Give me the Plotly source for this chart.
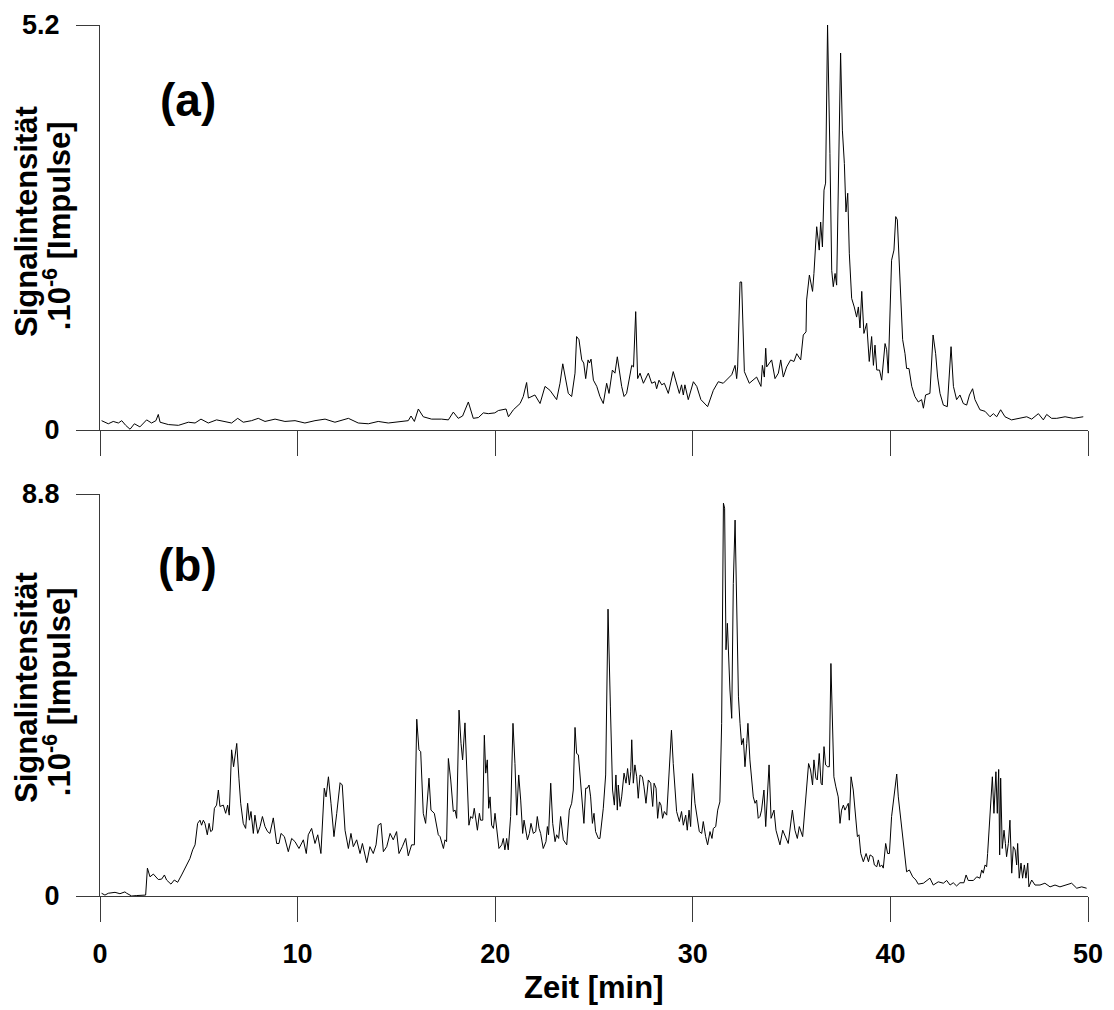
import plotly.graph_objects as go

# ---------------- data ----------------
time_a = [0.08, 0.42, 0.67, 0.93, 1.10, 1.30, 1.52, 1.74, 2.02, 2.36, 2.61, 2.83, 2.95, 3.04, 3.46, 3.97,
          4.47, 4.81, 5.11, 5.48, 5.90, 6.33, 6.66, 6.97, 7.25, 7.67, 8.01, 8.35, 8.86, 9.36, 9.87, 10.37,
          10.88, 11.39, 11.89, 12.57, 13.07, 13.58, 14.08, 14.59, 15.10, 15.60, 15.74, 15.91, 16.11, 16.36,
          16.78, 17.29, 17.63, 17.88, 18.13, 18.35, 18.64, 18.89, 19.15, 19.40, 19.65, 19.98, 20.16, 20.55,
          20.67, 20.92, 21.26, 21.42, 21.59, 21.68, 22.01, 22.27, 22.52, 22.77, 23.11, 23.28, 23.42, 23.70,
          23.87, 24.04, 24.12, 24.24, 24.38, 24.48, 24.58, 24.70, 24.77, 24.85, 24.97, 25.14, 25.30, 25.47,
          25.64, 25.76, 25.93, 26.06, 26.18, 26.40, 26.52, 26.65, 26.91, 27.00, 27.11, 27.21, 27.33, 27.50,
          27.75, 27.92, 28.09, 28.17, 28.29, 28.43, 28.56, 28.76, 29.01, 29.32, 29.43, 29.52, 29.60, 29.77,
          30.03, 30.20, 30.41, 30.75, 31.04, 31.29, 31.54, 31.97, 32.14, 32.22, 32.27, 32.39, 32.47, 32.61,
          32.86, 33.23, 33.45, 33.52, 33.62, 33.69, 33.74, 33.99, 34.16, 34.33, 34.45, 34.58, 34.75, 34.95,
          35.12, 35.26, 35.46, 35.59, 35.73, 35.76, 35.90, 36.02, 36.06, 36.13, 36.27, 36.40, 36.47, 36.56,
          36.64, 36.72, 36.82, 36.94, 37.03, 37.11, 37.20, 37.28, 37.37, 37.48, 37.57, 37.67, 37.75, 37.84,
          37.92, 38.04, 38.17, 38.29, 38.38, 38.46, 38.55, 38.66, 38.80, 38.93, 39.05, 39.14, 39.22, 39.31,
          39.45, 39.56, 39.73, 39.81, 39.89, 40.06, 40.18, 40.27, 40.35, 40.49, 40.62, 40.74, 40.82, 40.94,
          41.08, 41.24, 41.41, 41.58, 41.67, 41.78, 42.00, 42.16, 42.29, 42.39, 42.51, 42.68, 42.88, 43.07,
          43.19, 43.35, 43.52, 43.69, 43.86, 44.00, 44.16, 44.28, 44.53, 44.79, 45.04, 45.21, 45.38, 45.58,
          45.80, 46.13, 46.55, 46.90, 47.15, 47.49, 47.74, 47.91, 48.16, 48.42, 48.84, 49.26, 49.76]
signal_a = [0.12, 0.08, 0.11, 0.09, 0.12, 0.06, 0.01, 0.08, 0.04, 0.13, 0.09, 0.12, 0.20, 0.10, 0.07, 0.06,
            0.10, 0.09, 0.14, 0.09, 0.13, 0.11, 0.09, 0.15, 0.10, 0.12, 0.15, 0.11, 0.14, 0.11, 0.12, 0.09,
            0.12, 0.14, 0.10, 0.15, 0.09, 0.08, 0.11, 0.09, 0.11, 0.12, 0.18, 0.11, 0.27, 0.17,
            0.14, 0.14, 0.13, 0.23, 0.15, 0.18, 0.36, 0.15, 0.16, 0.22, 0.21, 0.22, 0.25, 0.27,
            0.17, 0.26, 0.34, 0.43, 0.61, 0.41, 0.45, 0.34, 0.56, 0.51, 0.39, 0.60, 0.85, 0.47,
            0.43, 0.73, 1.20, 1.16, 0.90, 0.86, 0.66, 0.90, 0.86, 0.91, 0.64, 0.56, 0.43, 0.34,
            0.60, 0.47, 0.77, 0.73, 0.94, 0.56, 0.43, 0.47, 0.83, 0.81, 1.52, 0.66, 0.73, 0.60,
            0.73, 0.60, 0.62, 0.53, 0.64, 0.58, 0.60, 0.47, 0.75, 0.47, 0.58, 0.45, 0.58, 0.39,
            0.62, 0.56, 0.39, 0.30, 0.51, 0.62, 0.60, 0.71, 0.83, 0.66, 0.81, 1.90, 1.90, 0.75,
            0.60, 0.68, 0.56, 0.83, 0.68, 1.05, 0.81, 0.90, 0.66, 0.73, 0.90, 0.68, 0.81, 0.90,
            0.88, 0.98, 0.90, 1.22, 1.26, 1.67, 1.99, 1.84, 1.78, 2.01, 2.61, 2.31, 2.67, 2.35,
            3.08, 3.17, 5.20, 3.55, 2.05, 1.84, 2.01, 1.86, 3.21, 4.84, 3.85, 3.42, 2.80, 3.04,
            2.27, 1.69, 1.58, 1.45, 1.58, 1.31, 1.78, 1.24, 1.37, 0.88, 1.20, 0.83, 1.09, 0.77,
            0.77, 0.64, 1.11, 1.03, 0.73, 2.18, 2.31, 2.74, 2.70, 1.84, 1.16, 0.98, 0.79, 0.79,
            0.56, 0.43, 0.36, 0.39, 0.28, 0.45, 0.47, 1.22, 0.98, 0.68, 0.47, 0.32, 0.30, 1.07,
            0.56, 0.39, 0.45, 0.34, 0.32, 0.45, 0.53, 0.39, 0.26, 0.24, 0.17, 0.21, 0.17, 0.26,
            0.17, 0.13, 0.15, 0.17, 0.14, 0.21, 0.13, 0.20, 0.15, 0.15, 0.17, 0.15, 0.17]

time_b = [0.08, 0.25, 0.42, 0.76, 1.01, 1.26, 1.35, 1.60, 1.86, 2.11, 2.31, 2.40, 2.53, 2.70, 2.95, 3.12,
          3.26, 3.37, 3.59, 3.76, 3.93, 4.13, 4.30, 4.55, 4.69, 4.81, 4.94, 5.06, 5.14, 5.23, 5.31, 5.43,
          5.52, 5.60, 5.69, 5.79, 5.90, 5.99, 6.07, 6.24, 6.36, 6.46, 6.54, 6.66, 6.76, 6.92, 7.03, 7.12,
          7.25, 7.37, 7.47, 7.56, 7.64, 7.76, 7.84, 7.98, 8.10, 8.22, 8.35, 8.48, 8.60, 8.77, 8.94, 9.06,
          9.16, 9.33, 9.53, 9.70, 9.87, 10.07, 10.29, 10.44, 10.54, 10.71, 10.88, 11.02, 11.18, 11.35,
          11.44, 11.56, 11.69, 11.84, 11.98, 12.15, 12.26, 12.40, 12.57, 12.70, 12.82, 12.99, 13.16,
          13.28, 13.50, 13.66, 13.83, 13.97, 14.08, 14.22, 14.34, 14.51, 14.68, 14.84, 15.01, 15.13,
          15.30, 15.47, 15.60, 15.77, 15.91, 16.03, 16.14, 16.23, 16.36, 16.48, 16.65, 16.75, 16.92,
          17.12, 17.21, 17.38, 17.46, 17.54, 17.63, 17.75, 17.88, 17.97, 18.05, 18.17, 18.27, 18.35,
          18.47, 18.56, 18.67, 18.76, 18.86, 18.94, 19.10, 19.20, 19.26, 19.37, 19.45, 19.52, 19.60,
          19.67, 19.74, 19.82, 19.91, 19.99, 20.07, 20.19, 20.33, 20.41, 20.49, 20.58, 20.66, 20.78,
          20.90, 21.00, 21.09, 21.19, 21.29, 21.39, 21.46, 21.55, 21.63, 21.73, 21.81, 21.93, 22.05,
          22.13, 22.22, 22.30, 22.43, 22.57, 22.64, 22.70, 22.81, 22.91, 23.03, 23.11, 23.21, 23.31,
          23.45, 23.62, 23.75, 23.87, 23.95, 24.04, 24.12, 24.21, 24.29, 24.37, 24.49, 24.58, 24.66,
          24.75, 24.83, 24.92, 25.00, 25.08, 25.22, 25.30, 25.39, 25.47, 25.59, 25.71, 25.83, 25.94,
          26.03, 26.11, 26.18, 26.23, 26.32, 26.40, 26.52, 26.62, 26.70, 26.79, 26.86, 26.91, 26.99,
          27.07, 27.16, 27.24, 27.33, 27.45, 27.53, 27.63, 27.75, 27.87, 27.97, 28.04, 28.14, 28.22,
          28.31, 28.39, 28.47, 28.56, 28.68, 28.80, 28.92, 29.01, 29.10, 29.18, 29.32, 29.43, 29.52,
          29.64, 29.72, 29.81, 29.89, 29.99, 30.11, 30.23, 30.33, 30.45, 30.53, 30.65, 30.75, 30.87,
          30.97, 31.04, 31.16, 31.26, 31.37, 31.46, 31.55, 31.61, 31.68, 31.75, 31.82, 31.88, 31.97,
          32.05, 32.14, 32.22, 32.31, 32.39, 32.47, 32.56, 32.64, 32.73, 32.79, 32.89, 32.98, 33.06,
          33.15, 33.23, 33.31, 33.40, 33.48, 33.60, 33.69, 33.86, 33.96, 34.11, 34.21, 34.33, 34.41,
          34.55, 34.67, 34.83, 35.04, 35.17, 35.29, 35.39, 35.56, 35.73, 35.86, 35.96, 36.06, 36.13,
          36.23, 36.30, 36.40, 36.49, 36.55, 36.64, 36.72, 36.82, 36.91, 36.99, 37.07, 37.14, 37.24,
          37.36, 37.45, 37.53, 37.62, 37.70, 37.79, 37.87, 37.92, 38.01, 38.12, 38.21, 38.33, 38.41,
          38.50, 38.63, 38.77, 38.89, 38.97, 39.11, 39.19, 39.31, 39.39, 39.47, 39.56, 39.64, 39.76,
          39.86, 39.95, 40.06, 40.18, 40.32, 40.40, 40.52, 40.62, 40.74, 40.82, 40.96, 41.13, 41.29,
          41.41, 41.67, 41.83, 42.00, 42.17, 42.42, 42.68, 42.85, 43.02, 43.18, 43.35, 43.52, 43.72,
          43.83, 43.94, 44.20, 44.37, 44.53, 44.62, 44.70, 44.79, 44.87, 44.92, 45.04, 45.16, 45.24,
          45.34, 45.41, 45.48, 45.53, 45.58, 45.66, 45.75, 45.82, 45.88, 45.97, 46.05, 46.14, 46.22,
          46.31, 46.39, 46.44, 46.52, 46.61, 46.69, 46.78, 46.86, 46.95, 47.01, 47.15, 47.32, 47.57,
          47.82, 48.08, 48.33, 48.58, 48.92, 49.17, 49.43, 49.68, 49.93]
signal_b = [0.06, 0.02, 0.06, 0.08, 0.05, 0.09, 0.06, 0.00, 0.01, 0.01, 0.02, 0.61, 0.42, 0.48, 0.36, 0.37,
            0.46, 0.35, 0.26, 0.35, 0.30, 0.46, 0.61, 0.82, 1.01, 1.12, 1.59, 1.66, 1.55, 1.66, 1.59, 1.34,
            1.59, 1.41, 1.44, 1.92, 1.99, 2.32, 1.96, 1.99, 1.81, 1.99, 1.77, 3.20, 2.83, 3.34, 2.58, 2.03,
            1.59, 1.48, 2.03, 1.66, 1.85, 1.37, 1.77, 1.37, 1.52, 1.74, 1.52, 1.41, 1.37, 1.71, 1.15, 1.15,
            1.37, 1.30, 0.97, 1.26, 1.19, 1.04, 1.23, 0.93, 1.34, 1.48, 1.15, 1.34, 0.93, 2.36,
            2.17, 2.61, 2.03, 1.30, 1.81, 2.48, 2.43, 1.44, 1.04, 1.37, 1.08, 1.23, 0.93,
            1.15, 0.73, 1.08, 0.93, 1.12, 1.55, 1.59, 0.97, 1.08, 1.37, 1.23, 1.41, 0.93,
            1.08, 1.26, 0.88, 1.12, 1.12, 3.87, 3.20, 3.16, 1.81, 1.59, 2.58, 1.88, 1.81,
            1.34, 1.30, 1.04, 1.23, 1.19, 3.01, 2.54, 1.85, 1.88, 1.70, 4.07, 3.34, 2.98,
            3.79, 2.76, 1.55, 1.74, 1.70, 1.92, 1.44, 1.81, 1.66, 1.66, 3.52, 2.69, 2.98,
            1.92, 2.17, 1.55, 1.48, 1.81, 1.52, 1.04, 1.12, 1.26, 1.01, 1.26, 1.01, 1.74,
            3.78, 2.90, 1.77, 2.65, 2.10, 1.37, 1.66, 1.37, 1.23, 1.37, 1.59, 1.37, 1.41,
            1.74, 1.48, 1.37, 1.04, 1.19, 1.52, 1.34, 2.47, 1.59, 1.19, 1.34, 1.26, 1.74,
            1.23, 1.12, 1.88, 2.03, 2.32, 3.69, 3.12, 3.09, 2.69, 2.17, 1.59, 2.36, 2.36,
            2.43, 2.17, 1.59, 1.81, 1.41, 1.26, 1.26, 1.59, 1.92, 2.65, 6.28, 4.14, 2.32,
            1.99, 2.65, 1.88, 2.43, 1.96, 2.17, 2.69, 2.47, 2.79, 2.43, 2.72, 3.42, 2.47,
            2.87, 2.61, 2.14, 2.65, 2.61, 2.39, 2.03, 2.54, 2.47, 1.96, 2.47, 2.36, 1.70,
            2.06, 1.99, 1.70, 1.85, 1.77, 2.87, 3.63, 2.90, 2.25, 1.85, 1.63, 1.85, 1.55,
            1.77, 1.44, 1.88, 1.52, 2.68, 2.03, 1.66, 1.41, 1.37, 1.63, 1.30, 1.12, 1.41,
            1.26, 1.48, 1.52, 1.88, 2.06, 3.78, 8.60, 8.49, 5.39, 5.97, 5.02, 4.51, 3.89,
            6.84, 8.23, 6.33, 4.36, 3.78, 3.31, 3.45, 2.83, 3.34, 3.78, 2.98, 2.47, 2.17,
            2.03, 2.10, 1.70, 1.74, 1.88, 2.32, 1.52, 2.87, 1.70, 1.88, 1.44, 1.23, 1.12,
            1.44, 1.30, 1.15, 1.88, 1.44, 1.26, 1.52, 1.30, 2.17, 2.90, 2.76, 2.43, 2.98,
            2.58, 2.54, 3.12, 2.47, 2.43, 3.27, 2.87, 2.83, 2.83, 5.09, 3.78, 2.61, 2.39,
            2.17, 1.59, 1.88, 1.99, 1.88, 1.96, 2.03, 1.66, 2.61, 2.32, 1.88, 1.30, 1.34,
            0.93, 0.75, 0.93, 0.75, 0.90, 0.86, 0.68, 0.64, 0.79, 0.64, 0.68, 0.61, 1.15,
            0.93, 0.93, 1.74, 2.21, 2.67, 2.17, 1.66, 1.23, 0.86, 0.53, 0.57, 0.42, 0.35,
            0.26, 0.28, 0.34, 0.39, 0.24, 0.31, 0.28, 0.34, 0.24, 0.29, 0.22, 0.29, 0.29,
            0.46, 0.34, 0.34, 0.42, 0.39, 0.57, 0.50, 0.68, 0.64, 0.93, 1.85, 2.61, 1.81,
            2.72, 1.81, 2.77, 0.90, 2.58, 1.04, 1.44, 1.15, 0.86, 1.15, 1.66, 0.50, 1.08,
            1.01, 0.68, 1.15, 0.39, 0.72, 0.39, 0.68, 0.39, 0.72, 0.20, 0.35, 0.24, 0.24,
            0.28, 0.20, 0.24, 0.20, 0.24, 0.28, 0.17, 0.20, 0.17]

x_ticks = [0, 10, 20, 30, 40, 50]
x_tick_labels = ["0", "10", "20", "30", "40", "50"]
y_ticks_a = [0, 5.2]
y_tick_labels_a = ["0", "5.2"]
y_ticks_b = [0, 8.8]
y_tick_labels_b = ["0", "8.8"]
panel_labels = ["(a)", "(b)"]
y_title_line1 = "Signalintensität"
y_title_line2 = ".10<sup>-6</sup> [Impulse]"
x_title = "Zeit [min]"

# ---------------- figure ----------------
FONT = "Arial, Liberation Sans, Helvetica, sans-serif"
AXIS_COLOR = "#3a3a3a"
TICK_FONT = dict(family=FONT, size=27, color="black", weight="bold")

fig = go.Figure()
fig.add_trace(go.Scatter(x=time_a, y=signal_a, mode="lines", xaxis="x", yaxis="y",
                         line=dict(color="black", width=1), showlegend=False, hoverinfo="skip"))
fig.add_trace(go.Scatter(x=time_b, y=signal_b, mode="lines", xaxis="x2", yaxis="y2",
                         line=dict(color="black", width=1), showlegend=False, hoverinfo="skip"))

common_x = dict(range=[0, 50], tickvals=x_ticks, ticktext=x_tick_labels, ticks="outside",
                ticklen=25, tickwidth=1.3, tickcolor=AXIS_COLOR, showline=True, linecolor=AXIS_COLOR,
                linewidth=1.3, showgrid=False, zeroline=False, tickfont=TICK_FONT, domain=[0, 1],
                automargin=False)
common_y = dict(ticks="outside", ticklen=23, tickwidth=1.3, tickcolor=AXIS_COLOR, showline=True,
                linecolor=AXIS_COLOR, linewidth=1.3, showgrid=False, zeroline=False, tickfont=TICK_FONT,
                ticklabelstandoff=11, automargin=False)

# the page body adds an 8 px offset, so margins are reduced by that amount on the left and top
fig.update_layout(
    width=1114, height=1010,
    margin=dict(l=92, r=34, t=17, b=122, pad=0),
    paper_bgcolor="white", plot_bgcolor="white",
    xaxis=dict(common_x, anchor="y", showticklabels=False),
    yaxis=dict(common_y, domain=[0.535, 1.0], range=[0, 5.2], tickvals=y_ticks_a,
               ticktext=y_tick_labels_a, anchor="x"),
    xaxis2=dict(common_x, anchor="y2", showticklabels=True, ticklabelstandoff=8),
    yaxis2=dict(common_y, domain=[0, 0.4615], range=[0, 8.8], tickvals=y_ticks_b,
                ticktext=y_tick_labels_b, anchor="x2"),
)

ann_font = dict(family=FONT, color="black", weight="bold")
annotations = [
    dict(text=panel_labels[0], x=0.089, y=0.914, xref="paper", yref="paper", showarrow=False,
         xanchor="center", yanchor="middle", font=dict(ann_font, size=46)),
    dict(text=panel_labels[1], x=0.089, y=0.380, xref="paper", yref="paper", showarrow=False,
         xanchor="center", yanchor="middle", font=dict(ann_font, size=46)),
    dict(text=x_title, x=0.5, y=-0.1056, xref="paper", yref="paper", showarrow=False,
         xanchor="center", yanchor="middle", font=dict(ann_font, size=31)),
]
for yc in (0.775, 0.240):
    annotations.append(dict(text=y_title_line1, x=-0.0739, y=yc, xref="paper", yref="paper",
                            showarrow=False, textangle=-90, xanchor="center", yanchor="middle",
                            font=dict(ann_font, size=31)))
    annotations.append(dict(text=y_title_line2, x=-0.0435, y=yc - 0.006, xref="paper", yref="paper",
                            showarrow=False, textangle=-90, xanchor="center", yanchor="middle",
                            font=dict(ann_font, size=31)))
fig.update_layout(annotations=annotations)

fig.write_html("out.html")
